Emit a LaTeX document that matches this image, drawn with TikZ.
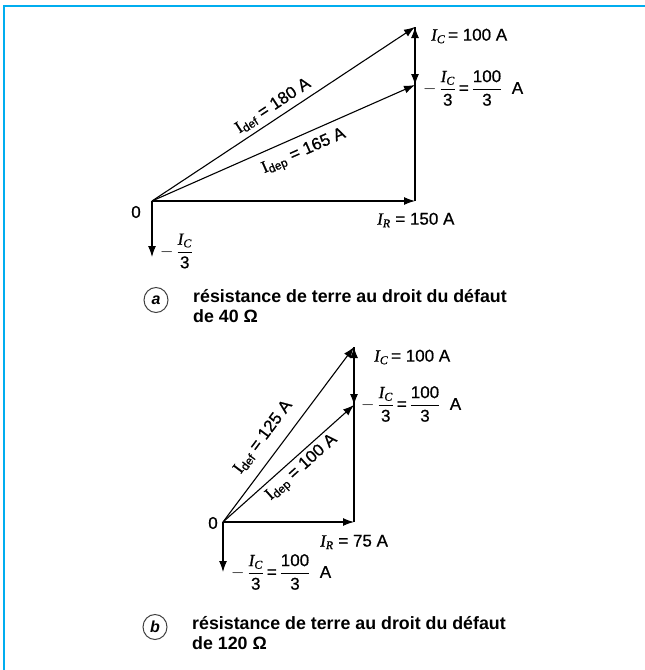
\documentclass[tikz,border=0pt]{standalone}
\usepackage{fontspec}
\setmainfont{Liberation Sans}
\newfontfamily\lblfont[FakeBold=0.7]{Liberation Sans}
\newfontfamily\serifI[FakeBold=0.7]{Liberation Serif}
\usetikzlibrary{arrows.meta,shapes.geometric}
\begin{document}
\begin{tikzpicture}[x=1pt,y=-1pt,
  vec/.style={->,line width=1.1pt,>={Latex[length=11pt,width=8pt]}},
  lbl/.style={inner sep=0pt,font=\fontsize{17}{19}\lblfont},
  captext/.style={inner sep=0pt,align=left,anchor=north west,font=\fontsize{17.8}{20}\selectfont\bfseries},
  tag/.style={draw=black!75,line width=1pt,ellipse,minimum width=24pt,minimum height=25pt,inner sep=0pt,font=\fontsize{16}{18}\selectfont\bfseries\itshape}]
\useasboundingbox (0,0) rectangle (645,670);
\draw[cyan,line width=2pt] (3,6) -- (645,6);
\draw[cyan,line width=1.6pt] (4,6) -- (4,670);
\newcommand{\Idx}[1]{{\serifI I}\textsubscript{#1}}
\newcommand{\Ii}[1]{{\serifI\itshape I\textsubscript{#1}}}
\newcommand{\frIC}{$-\,{\displaystyle\frac{\mbox{\Ii{C}}}{\mbox{3}}}$}
\newcommand{\frH}{${\displaystyle\frac{\mbox{100}}{\mbox{3}}}$}
% ---------- diagram a ----------
\coordinate (Oa) at (152,201);
\coordinate (Ra) at (415,201);
\coordinate (Ca) at (415,27);
\coordinate (Da) at (415,85);
\coordinate (Na) at (152,257);
\draw[vec] (Oa) -- (Ra);
\draw[vec] (Ra) -- (Ca);
\draw[vec] (Ca) -- (Da);
\draw[vec] (Oa) -- (Ca);
\draw[vec] (Oa) -- (Da);
\draw[vec] (Oa) -- (Na);
\node[lbl] (a0) at (136,212) {0};
\node[lbl,anchor=west] (aIC) at (431,36) {\Ii{C}\,= 100 A};
\node[lbl,anchor=west] (aIC3) at (423,88) {\frIC\,=\,\frH\ \ A};
\node[lbl,anchor=west] (aIR) at (377,220) {\Ii{R} = 150 A};
\node[lbl,anchor=west] (aN) at (160,251) {\frIC};
\node[lbl,rotate=33.3] (aDef) at (273,106) {\Idx{def} = 180 A};
\node[lbl,rotate=23.8] (aDep) at (304,152) {\Idx{dep} = 165 A};
\node[tag] (ta) at (156,300) {a};
\node[captext] (capa) at (193,289) {résistance de terre au droit du défaut\\de 40 Ω};
% ---------- diagram b ----------
\coordinate (Ob) at (223,522);
\coordinate (Rb) at (354,522);
\coordinate (Cb) at (354,347);
\coordinate (Db) at (354,405);
\coordinate (Nb) at (223,572);
\draw[vec] (Ob) -- (Rb);
\draw[vec] (Rb) -- (Cb);
\draw[vec] (Cb) -- (Db);
\draw[vec] (Ob) -- (Cb);
\draw[vec] (Ob) -- (Db);
\draw[vec] (Ob) -- (Nb);
\node[lbl] (b0) at (213,523) {0};
\node[lbl,anchor=west] (bIC) at (374,357) {\Ii{C}\,= 100 A};
\node[lbl,anchor=west] (bIC3) at (361,404) {\frIC\,=\,\frH\ \ A};
\node[lbl,anchor=west] (bIR) at (320,542) {\Ii{R} = 75 A};
\node[lbl,anchor=west] (bN) at (231,572) {\frIC\,=\,\frH\ \ A};
\node[lbl,rotate=53.2] (bDef) at (263,437) {\Idx{def} = 125 A};
\node[lbl,rotate=41.8] (bDep) at (302,468) {\Idx{dep} = 100 A};
\node[tag] (tb) at (155,627) {b};
\node[captext] (capb) at (192,616) {résistance de terre au droit du défaut\\de 120 Ω};
\end{tikzpicture}
\end{document}
